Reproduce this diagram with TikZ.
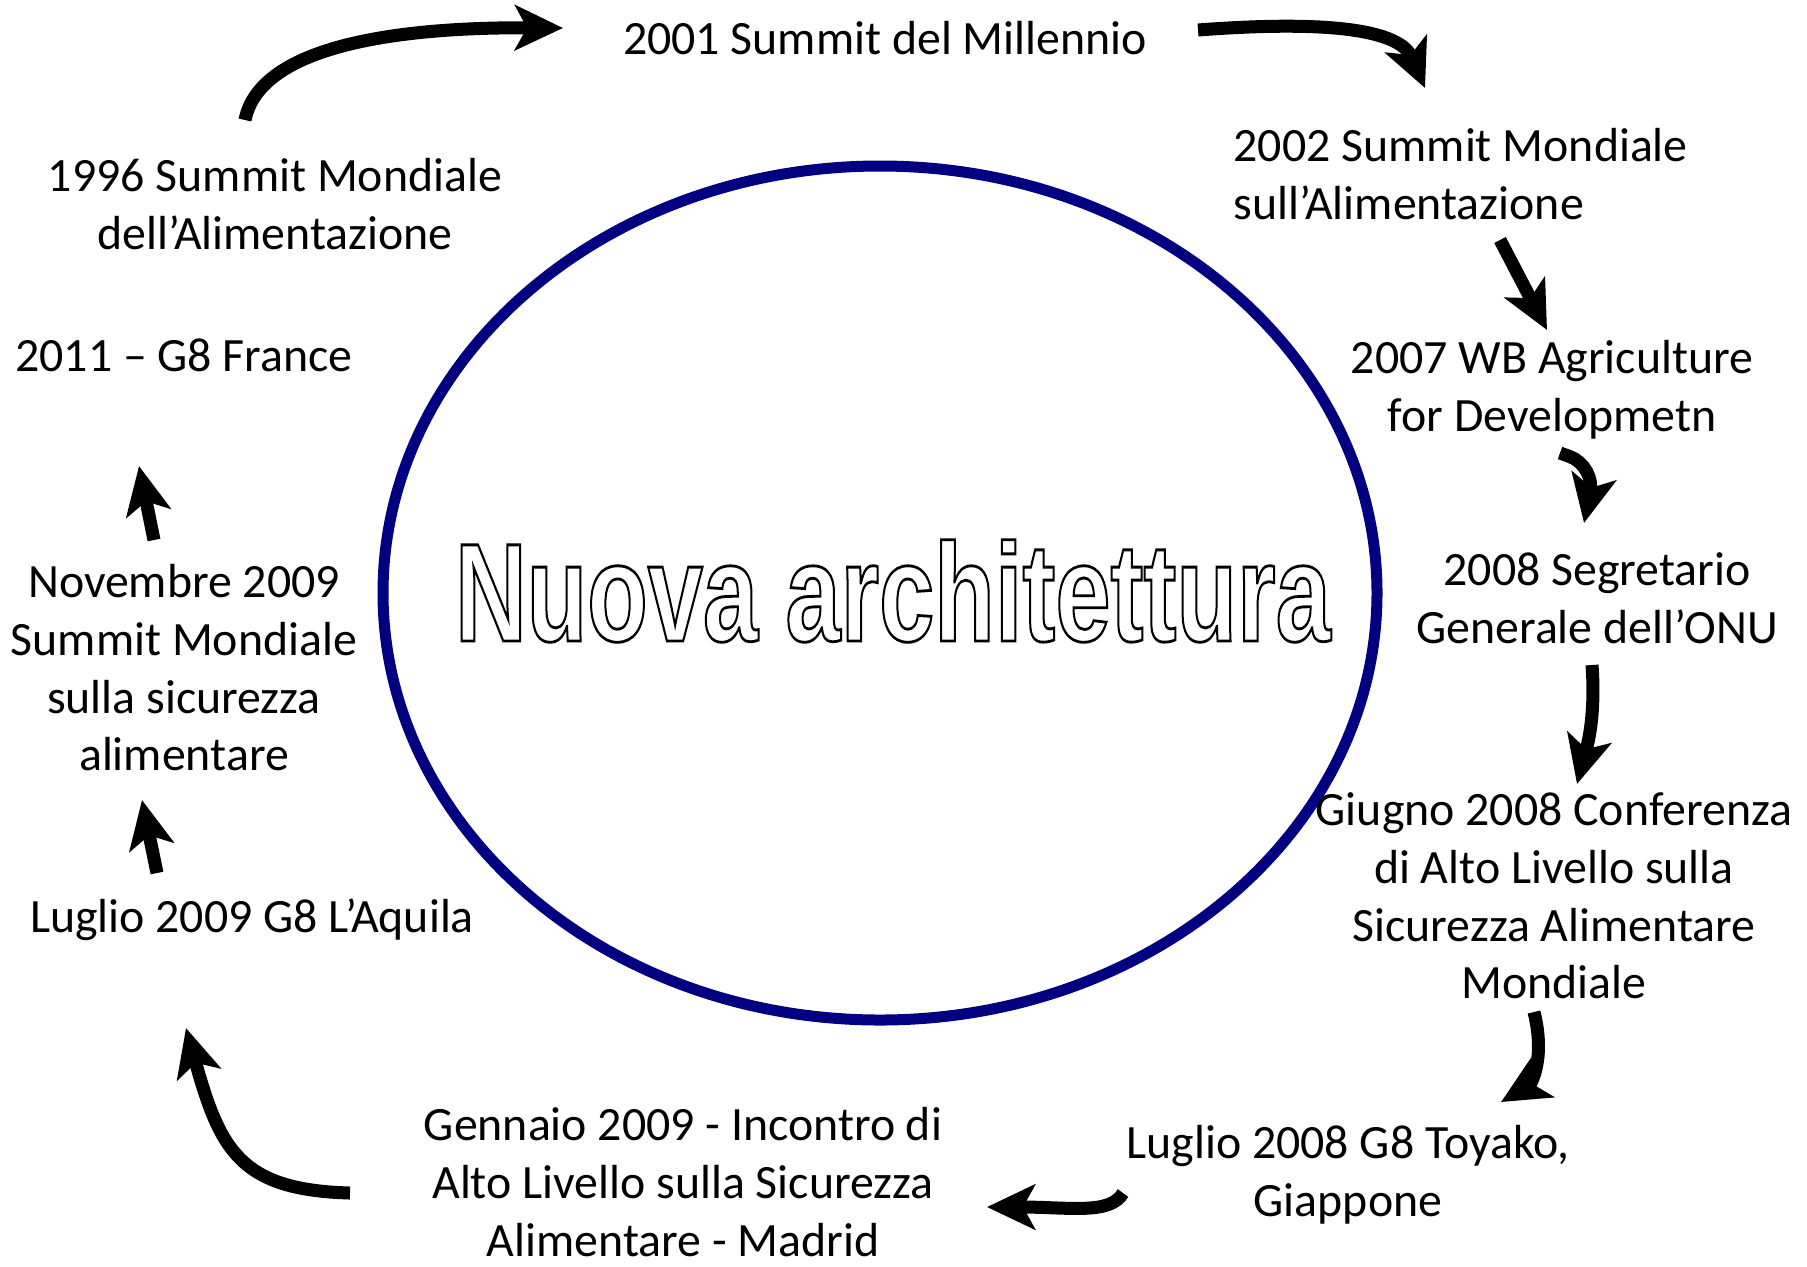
\documentclass[tikz,border=0pt]{standalone}
\usepackage{fontspec}
\setmainfont{Carlito}
\newfontfamily\bigfont{Liberation Sans}
\usetikzlibrary{arrows.meta}
\definecolor{ringblue}{RGB}{0,0,128}

% outline (stroked) letters
\newcommand{\hollow}[1]{\special{pdf:literal direct 1 Tr 0.8 w}#1\special{pdf:literal direct 0 Tr}}

\begin{document}
\begin{tikzpicture}[x=0.01cm, y=-0.01cm,
  event/.style={align=center, inner sep=0pt, font=\fontsize{13.6}{16.4}\selectfont},
  stepto/.style={line width=0.13cm, -{Stealth[length=0.48cm, width=0.45cm, inset=0.12cm]}}]

\useasboundingbox (0,0) rectangle (1807,1266);

% ring
\draw[ringblue, line width=0.11cm] (880,593) ellipse [x radius=497, y radius=427];

\node[inner sep=0pt, xscale=0.71] (title) at (893,591)
  {\bigfont\bfseries\fontsize{39.7}{44}\selectfont\hollow{Nuova architettura}};

% events
\node[event] (e1996) at (275,204) {1996 Summit Mondiale\\dell’Alimentazione};
\node[event] (e2001) at (885,38) {2001 Summit del Millennio};
\node[event, align=left, anchor=west] (e2002) at (1233,174) {2002 Summit Mondiale\\sull’Alimentazione};
\node[event] (e2007) at (1552,390) {2007 WB Agriculture\\for Developmetn};
\node[event] (e2008) at (1597,598) {2008 Segretario\\Generale dell’ONU};
\node[event] (giugno) at (1554,896) {Giugno 2008 Conferenza\\di Alto Livello sulla\\Sicurezza Alimentare\\Mondiale};
\node[event] (toyako) at (1348,1175) {Luglio 2008 G8 Toyako,\\Giappone};
\node[event] (madrid) at (683,1182) {Gennaio 2009 - Incontro di\\Alto Livello sulla Sicurezza\\Alimentare - Madrid};
\node[event] (aquila) at (252,920) {Luglio 2009 G8 L’Aquila};
\node[event] (nov) at (184,668) {Novembre 2009\\Summit Mondiale\\sulla sicurezza\\alimentare};
\node[event] (france) at (184,355) {2011 – G8 France};

% arrow ends
\coordinate (a1) at (245,120);  \coordinate (b1) at (563,28);
\coordinate (a2) at (1198,30);  \coordinate (b2) at (1425,88);
\coordinate (a3) at (1500,240); \coordinate (b3) at (1547,330);
\coordinate (a4) at (1560,453); \coordinate (b4) at (1584,523);
\coordinate (a5) at (1592,665); \coordinate (b5) at (1577,784);
\coordinate (a6) at (1534,1012); \coordinate (b6) at (1501,1102);
\coordinate (a7) at (1123,1193); \coordinate (b7) at (987,1207);
\coordinate (a8) at (350,1193); \coordinate (b8) at (186,1028);
\coordinate (a9) at (157,873);  \coordinate (b9) at (142,800);
\coordinate (a10) at (154,540); \coordinate (b10) at (139,466);

\draw[stepto] (a1) .. controls (260,45) and (400,27) .. (b1);
\draw[stepto] (a2) .. controls (1330,20) and (1400,30) .. (b2);
\draw[stepto] (a3) -- (b3);
\draw[stepto, rounded corners=8pt] (a4) -- (1596,466) -- (b4);
\draw[stepto] (a5) .. controls (1596,720) and (1586,750) .. (b5);
\draw[stepto] (a6) .. controls (1546,1060) and (1530,1085) .. (b6);
\draw[stepto] (a7) .. controls (1110,1215) and (1070,1207) .. (b7);
\draw[stepto] (a8) .. controls (240,1190) and (220,1150) .. (b8);
\draw[stepto] (a9) -- (b9);
\draw[stepto] (a10) -- (b10);

\end{tikzpicture}
\end{document}
